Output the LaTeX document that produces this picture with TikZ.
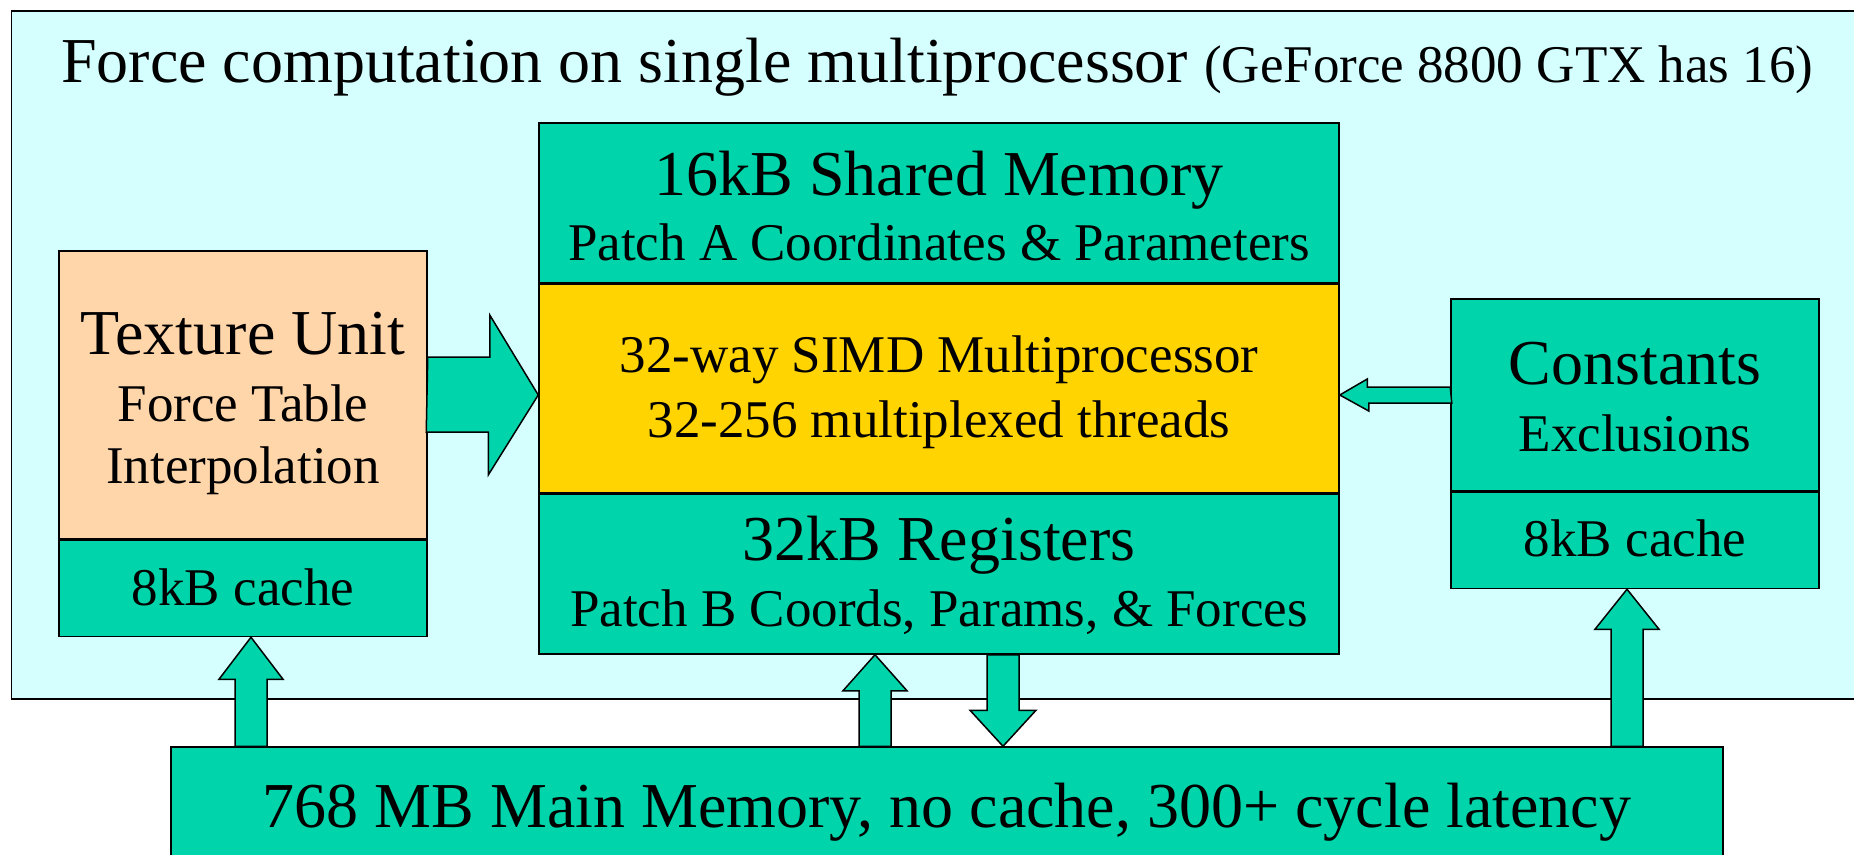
\documentclass[tikz,border=0pt]{standalone}
\usepackage{fontspec}
\setmainfont{Liberation Serif}
\usetikzlibrary{positioning}
\usetikzlibrary{calc}
\definecolor{bgcyan}{RGB}{213,255,255}
\definecolor{gputeal}{RGB}{0,212,170}
\definecolor{peach}{RGB}{255,213,170}
\definecolor{gold}{RGB}{255,212,0}
\tikzset{blk/.style={draw, line width=1.5pt, fill=gputeal, inner sep=0pt}}
\tikzset{big/.style={font=\fontsize{64}{70}\selectfont, inner sep=0pt, anchor=base}}
\tikzset{sml/.style={font=\fontsize{53}{58}\selectfont, inner sep=0pt, anchor=base}}
\tikzset{fat/.style={draw, line width=1.5pt, fill=gputeal, line join=miter}}

\begin{document}
\begin{tikzpicture}[x=1pt, y=-1pt]
\useasboundingbox (0,0) rectangle (1854,854);
\clip (0,0) rectangle (1854,854);

% multiprocessor frame
\draw[line width=1.5pt, fill=bgcyan] (11.5,11) rectangle (1880,699);
\node[big, anchor=base west] (title) at (61,82) {Force computation on single multiprocessor {\fontsize{53}{58}\selectfont (GeForce 8800 GTX has 16)}};

% centre column
\node[blk, minimum width=800pt, minimum height=160pt] (shared) at (939,203) {};
\node[blk, fill=gold, minimum width=800pt, minimum height=208pt, below=0pt of shared] (simd) {};
\node[blk, minimum width=800pt, minimum height=160pt, below=0pt of simd] (regs) {};

% texture unit
\node[blk, fill=peach, minimum width=368pt, minimum height=288pt] (tex) at (243,395) {};
\node[blk, minimum width=368pt, minimum height=96pt, below=0pt of tex] (tcache) {};

% constants
\node[blk, minimum width=368pt, minimum height=192pt] (con) at (1635,395) {};
\node[blk, minimum width=368pt, minimum height=96pt, below=0pt of con] (ccache) {};

% main memory
\node[blk, minimum width=1552pt, minimum height=153pt] (mem) at (947,823.5) {};

% block arrows
\draw[fat] (tex.east) ++(0,-38) -- ++(62,0) -- ++(0,-42) -- (simd.west |- tex.east) -- ++(-50,80) -- ++(0,-43) -- ++(-62,0) -- cycle;
\draw[fat] (con.west) ++(0,-8) -- ++(-83,0) -- ++(0,-8) -- (simd.east |- con.west) -- ++(29,16) -- ++(0,-8) -- ++(83,0) -- cycle;

\coordinate (t1) at ($(tcache.south)+(8,0)$);
\draw[fat] (t1) -- ++(32,42) -- ++(-16,0) -- ($(t1 |- mem.north)+(16,0)$) -- ($(t1 |- mem.north)+(-16,0)$) -- ($(t1)+(-16,42)$) -- ++(-16,0) -- cycle;

\coordinate (t2) at ($(regs.south)+(-64,0)$);
\draw[fat] (t2) -- ++(32,36) -- ++(-16,0) -- ($(t2 |- mem.north)+(16,0)$) -- ($(t2 |- mem.north)+(-16,0)$) -- ($(t2)+(-16,36)$) -- ++(-16,0) -- cycle;

\coordinate (d1) at ($(regs.south)+(64,0)$);
\draw[fat] ($(d1)+(-16,0)$) -- ($(d1)+(16,0)$) -- ($(d1 |- mem.north)+(16,-36)$) -- ++(17,0) -- (d1 |- mem.north) -- ++(-33,-36) -- ++(17,0) -- cycle;

\coordinate (t3) at ($(ccache.south)+(-8,0)$);
\draw[fat] (t3) -- ++(32,40) -- ++(-16,0) -- ($(t3 |- mem.north)+(16,0)$) -- ($(t3 |- mem.north)+(-16,0)$) -- ($(t3)+(-16,40)$) -- ++(-16,0) -- cycle;

% texts
\node[big] (shm) at (939,195) {16kB Shared Memory};
\node[sml] (pa) at (939,260) {Patch A Coordinates \& Parameters};
\node[sml] (mp) at (939,372) {32-way SIMD Multiprocessor};
\node[sml] (thr) at (939,437) {32-256 multiplexed threads};
\node[big] (reg) at (939,560) {32kB Registers};
\node[sml] (pb) at (939,626) {Patch B Coords, Params, \& Forces};
\node[big] (tu) at (243,354) {Texture Unit};
\node[sml] (ft) at (243,421) {Force Table};
\node[sml] (ip) at (243,483) {Interpolation};
\node[sml] (tc) at (243,605) {8kB cache};
\node[big] (cst) at (1635,384) {Constants};
\node[sml] (exc) at (1635,451) {Exclusions};
\node[sml] (cc) at (1635,556) {8kB cache};
\node[big] (mm) at (947,827) {768 MB Main Memory, no cache, 300+ cycle latency};
\end{tikzpicture}
\end{document}
